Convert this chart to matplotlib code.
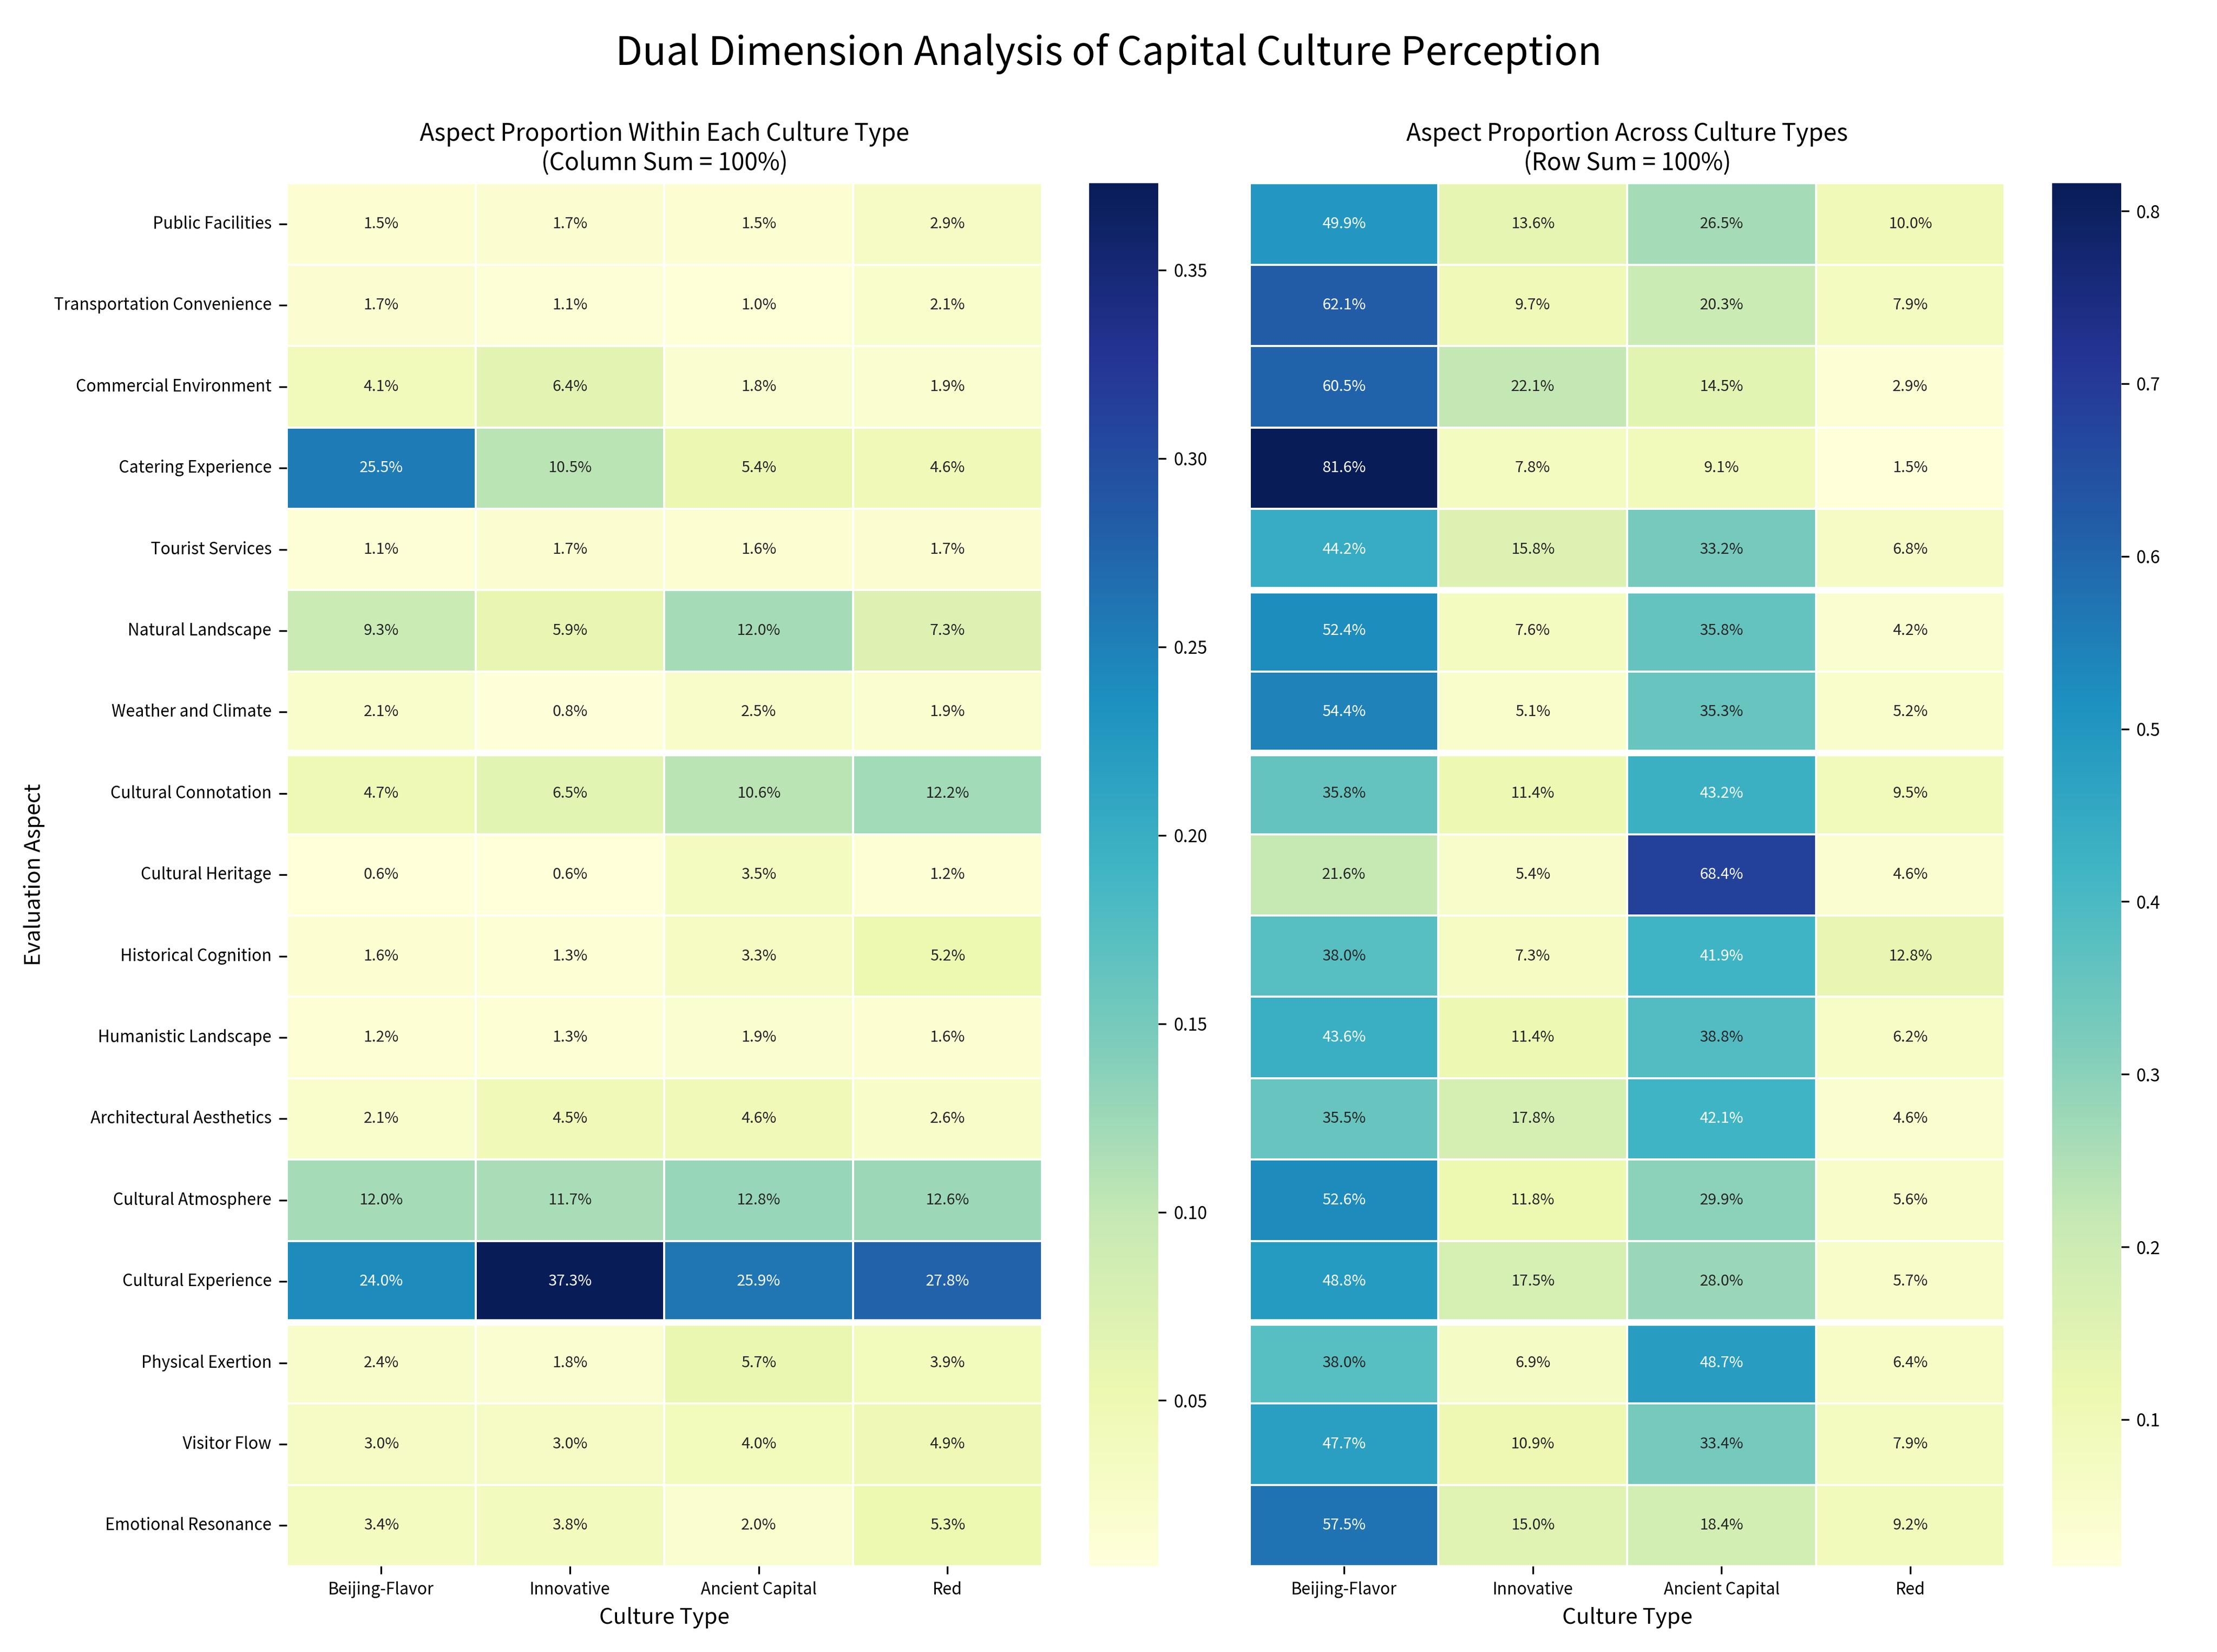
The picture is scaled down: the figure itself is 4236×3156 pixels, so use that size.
import numpy as np
import pandas as pd
import matplotlib
matplotlib.use('Agg')
import matplotlib.pyplot as plt
import seaborn as sns

aspects = ['Public Facilities', 'Transportation Convenience', 'Commercial Environment',
           'Catering Experience', 'Tourist Services', 'Natural Landscape', 'Weather and Climate',
           'Cultural Connotation', 'Cultural Heritage', 'Historical Cognition',
           'Humanistic Landscape', 'Architectural Aesthetics', 'Cultural Atmosphere',
           'Cultural Experience', 'Physical Exertion', 'Visitor Flow', 'Emotional Resonance']
cultures = ['Beijing-Flavor', 'Innovative', 'Ancient Capital', 'Red']

col_pct = [
    [1.5, 1.7, 1.5, 2.9],
    [1.7, 1.1, 1.0, 2.1],
    [4.1, 6.4, 1.8, 1.9],
    [25.5, 10.5, 5.4, 4.6],
    [1.1, 1.7, 1.6, 1.7],
    [9.3, 5.9, 12.0, 7.3],
    [2.1, 0.8, 2.5, 1.9],
    [4.7, 6.5, 10.6, 12.2],
    [0.6, 0.6, 3.5, 1.2],
    [1.6, 1.3, 3.3, 5.2],
    [1.2, 1.3, 1.9, 1.6],
    [2.1, 4.5, 4.6, 2.6],
    [12.0, 11.7, 12.8, 12.6],
    [24.0, 37.3, 25.9, 27.8],
    [2.4, 1.8, 5.7, 3.9],
    [3.0, 3.0, 4.0, 4.9],
    [3.4, 3.8, 2.0, 5.3],
]
row_pct = [
    [49.9, 13.6, 26.5, 10.0],
    [62.1, 9.7, 20.3, 7.9],
    [60.5, 22.1, 14.5, 2.9],
    [81.6, 7.8, 9.1, 1.5],
    [44.2, 15.8, 33.2, 6.8],
    [52.4, 7.6, 35.8, 4.2],
    [54.4, 5.1, 35.3, 5.2],
    [35.8, 11.4, 43.2, 9.5],
    [21.6, 5.4, 68.4, 4.6],
    [38.0, 7.3, 41.9, 12.8],
    [43.6, 11.4, 38.8, 6.2],
    [35.5, 17.8, 42.1, 4.6],
    [52.6, 11.8, 29.9, 5.6],
    [48.8, 17.5, 28.0, 5.7],
    [38.0, 6.9, 48.7, 6.4],
    [47.7, 10.9, 33.4, 7.9],
    [57.5, 15.0, 18.4, 9.2],
]

plt.rcParams['font.family'] = ['Noto Sans CJK SC', 'DejaVu Sans']

df_col = pd.DataFrame(np.array(col_pct) / 100, index=aspects, columns=cultures)
df_row = pd.DataFrame(np.array(row_pct) / 100, index=aspects, columns=cultures)

fig, axes = plt.subplots(1, 2, figsize=(14.12, 10.52), dpi=300)

sns.heatmap(df_col, ax=axes[0], cmap='YlGnBu', annot=True, fmt='.1%',
            annot_kws={'fontsize': 7}, linewidths=0.5, linecolor='white')
axes[0].set_title('Aspect Proportion Within Each Culture Type\n(Column Sum = 100%)', fontsize=11)
axes[0].set_ylabel('Evaluation Aspect', fontsize=10)
axes[0].set_xlabel('Culture Type', fontsize=10)

sns.heatmap(df_row, ax=axes[1], cmap='YlGnBu', annot=True, fmt='.1%',
            annot_kws={'fontsize': 7}, linewidths=0.5, linecolor='white', yticklabels=False)
axes[1].set_title('Aspect Proportion Across Culture Types\n(Row Sum = 100%)', fontsize=11)
axes[1].set_xlabel('Culture Type', fontsize=10)
axes[1].set_ylabel('')

for ax in axes:
    for y in [7, 14]:
        ax.axhline(y, color='white', linewidth=3)
    ax.tick_params(labelsize=7.5)
    ax.set_xticklabels(ax.get_xticklabels(), rotation=0)
    ax.collections[0].colorbar.ax.tick_params(labelsize=8)
axes[1].axhline(5, color='white', linewidth=3)
axes[0].set_yticklabels(axes[0].get_yticklabels(), rotation=0)

fig.suptitle('Dual Dimension Analysis of Capital Culture Perception', fontsize=18)
plt.tight_layout(rect=[0, 0, 1, 0.98])
plt.savefig('out.png', dpi=300)
